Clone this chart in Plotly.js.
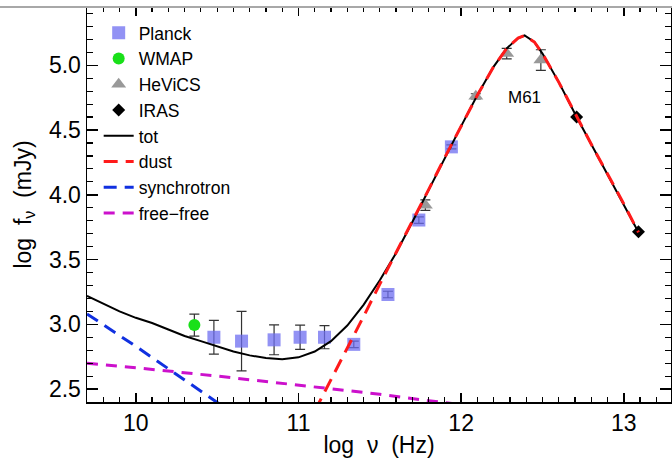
<!DOCTYPE html>
<html>
<head>
<meta charset="utf-8">
<script src="https://cdn.plot.ly/plotly-3.0.1.min.js"></script>
<style>html,body{margin:0;padding:0;background:#fff;}#chart{width:672px;height:465px;}</style>
</head>
<body>
<div id="chart"></div>
<script>
// ---- data ----
const planckX = [10.48, 10.65, 10.85, 11.01, 11.16, 11.34, 11.55, 11.74, 11.94];
const planckY = [2.90, 2.87, 2.88, 2.90, 2.90, 2.845, 3.23, 3.805, 4.37];
const planckErr = [0.13, 0.23, 0.115, 0.093, 0.089, 0.025, 0.025, 0.025, 0.015];

const wmapX = [10.36];
const wmapY = [2.994];
const wmapErr = [0.085];

const hevicsX = [11.78, 12.09, 12.28, 12.49];
const hevicsY = [3.92, 4.76, 5.09, 5.04];
const hevicsErr = [0.04, 0.02, 0.04, 0.08];

const irasX = [12.71, 13.09];
const irasY = [4.60, 3.715];

const totX = [9.70, 9.8, 9.9, 10.0, 10.1, 10.2, 10.3, 10.4, 10.5, 10.6, 10.7, 10.8, 10.9, 11.0, 11.1, 11.2, 11.3, 11.4, 11.5, 11.6, 11.7, 11.8, 11.9, 12.0, 12.1, 12.2, 12.28, 12.35, 12.39, 12.45, 12.5, 12.6, 12.71, 12.8, 12.9, 13.0, 13.09];
const totY = [3.22, 3.16, 3.10, 3.05, 3.01, 2.96, 2.91, 2.87, 2.83, 2.79, 2.76, 2.74, 2.73, 2.745, 2.79, 2.87, 2.99, 3.15, 3.34, 3.55, 3.79, 4.04, 4.29, 4.53, 4.77, 4.99, 5.13, 5.21, 5.23, 5.18, 5.09, 4.87, 4.60, 4.39, 4.16, 3.93, 3.71];

const dustX = [11.10, 11.2, 11.3, 11.4, 11.5, 11.6, 11.7, 11.8, 11.9, 12.0, 12.1, 12.2, 12.28, 12.35, 12.39, 12.45, 12.5, 12.6, 12.71, 12.8, 12.9, 13.0, 13.09];
const dustY = [2.33, 2.57, 2.82, 3.06, 3.31, 3.55, 3.80, 4.04, 4.29, 4.53, 4.77, 4.99, 5.13, 5.21, 5.23, 5.18, 5.09, 4.87, 4.60, 4.39, 4.16, 3.93, 3.71];

const syncX = [9.70, 10.0, 10.3, 10.6];
const syncY = [3.08, 2.83, 2.57, 2.31];

const ffX = [9.70, 10.0, 10.5, 11.0, 11.5, 11.8, 12.0];
const ffY = [2.70, 2.665, 2.60, 2.53, 2.46, 2.41, 2.38];

const xTickVals = [10, 11, 12, 13];
const yTickVals = [2.5, 3.0, 3.5, 4.0, 4.5, 5.0];

const FONT = 'Liberation Sans, Arial, sans-serif';
const SP = '\u00A0\u00A0';

const errStyle = (arr) => ({type: 'data', array: arr, visible: true, color: '#333', thickness: 1.2, width: 5});

const traces = [
  {x: planckX, y: planckY, name: 'Planck', mode: 'markers', type: 'scatter',
   marker: {symbol: 'square', size: 13, color: 'rgba(110,110,240,0.75)'},
   error_y: errStyle(planckErr)},
  {x: wmapX, y: wmapY, name: 'WMAP', mode: 'markers', type: 'scatter',
   marker: {symbol: 'circle', size: 12, color: '#19e019'},
   error_y: errStyle(wmapErr)},
  {x: hevicsX, y: hevicsY, name: 'HeViCS', mode: 'markers', type: 'scatter',
   marker: {symbol: 'triangle-up', size: 13, color: '#999999'},
   error_y: errStyle(hevicsErr)},
  {x: irasX, y: irasY, name: 'IRAS', mode: 'markers', type: 'scatter',
   marker: {symbol: 'diamond', size: 10, color: '#000'}},
  {x: totX, y: totY, name: 'tot', mode: 'lines', type: 'scatter',
   line: {color: '#000', width: 2}},
  {x: dustX, y: dustY, name: 'dust', mode: 'lines', type: 'scatter',
   line: {color: '#ff1a1a', width: 3, dash: '14px,8px'}},
  {x: syncX, y: syncY, name: 'synchrotron', mode: 'lines', type: 'scatter',
   line: {color: '#1030e0', width: 3, dash: '13px,8px'}},
  {x: ffX, y: ffY, name: 'free\u2212free', mode: 'lines', type: 'scatter',
   line: {color: '#cc11cc', width: 3, dash: '11px,8px'}}
];

const layout = {
  width: 672, height: 465,
  margin: {l: 87, r: 1, t: 7, b: 63},
  paper_bgcolor: '#fff', plot_bgcolor: '#fff',
  font: {family: FONT, color: '#000', size: 20},
  showlegend: true,
  legend: {x: 0.02, y: 0.98, xanchor: 'left', yanchor: 'top', bgcolor: 'rgba(0,0,0,0)',
           font: {family: FONT, size: 17.5, color: '#000'}, itemwidth: 30, tracegroupgap: 0},
  xaxis: {range: [9.70, 13.29], tickvals: xTickVals, ticktext: xTickVals.map(String),
          ticks: 'inside', ticklen: 9, tickwidth: 1.5, tickcolor: '#000',
          showline: true, linecolor: '#000', linewidth: 1.5, mirror: 'ticks',
          showgrid: false, zeroline: false,
          tickfont: {family: FONT, size: 23},
          minor: {dtick: 0.1, tick0: 10, ticks: 'inside', ticklen: 5, tickwidth: 1.2, tickcolor: '#000', showgrid: false},
          title: {text: 'log' + SP + '\u03BD' + SP + '(Hz)', font: {family: FONT, size: 23}, standoff: 2}},
  yaxis: {range: [2.4, 5.45], tickvals: yTickVals, ticktext: yTickVals.map(v => v.toFixed(1)),
          ticks: 'inside', ticklen: 11, tickwidth: 1.5, tickcolor: '#000',
          showline: true, linecolor: '#000', linewidth: 1.5, mirror: 'ticks',
          showgrid: false, zeroline: false,
          tickfont: {family: FONT, size: 23},
          minor: {dtick: 0.1, tick0: 2.5, ticks: 'inside', ticklen: 6, tickwidth: 1.2, tickcolor: '#000', showgrid: false},
          title: {text: 'log' + SP + 'f<sub>\u03BD</sub>' + SP + '(mJy)', font: {family: FONT, size: 23}, standoff: 11}},
  annotations: [{x: 12.39, y: 4.75, xref: 'x', yref: 'y', text: 'M61', showarrow: false,
                 font: {family: FONT, size: 17, color: '#000'}}],
  shapes: [{type: 'line', xref: 'paper', yref: 'paper', x0: -0.2, x1: 1.01, y0: 1, y1: 1,
            line: {color: '#a8a8a8', width: 2}, layer: 'above'}]
};

Plotly.newPlot('chart', traces, layout, {displayModeBar: false, staticPlot: true});
</script>
</body>
</html>
